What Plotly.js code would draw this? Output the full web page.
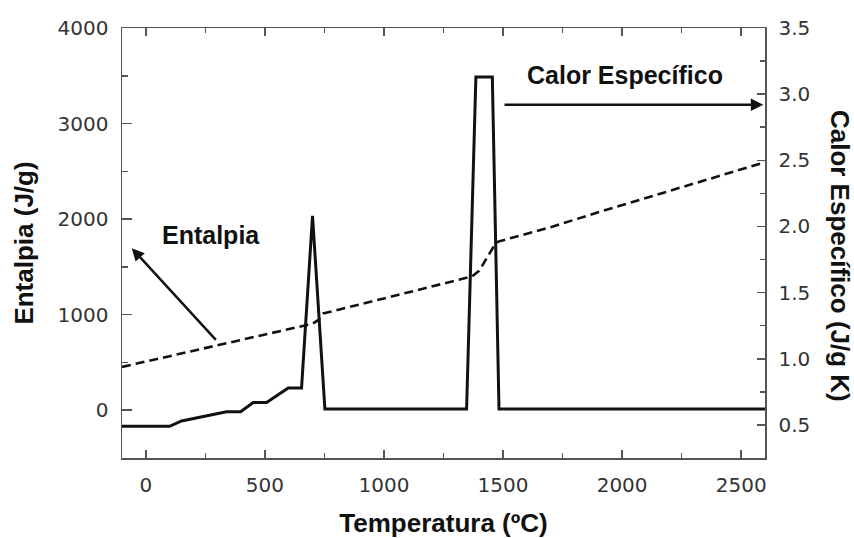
<!DOCTYPE html>
<html>
<head>
<meta charset="utf-8">
<script src="https://cdn.plot.ly/plotly-3.0.1.min.js"></script>
<style>html,body{margin:0;padding:0;background:#fff}#chart{width:854px;height:538px}</style>
</head>
<body>
<div id="chart"></div>
<script>
// Entalpia (left axis, J/g) vs temperature (°C)
const tempEntalpia = [-100, 100, 300, 500, 650, 700, 725, 745, 1000, 1200, 1340, 1370, 1400, 1430, 1460, 1480, 1700, 1900, 2100, 2300, 2600];
const entalpia     = [453, 567, 681, 795, 880, 905, 945, 1012, 1170, 1295, 1380, 1400, 1460, 1590, 1710, 1765, 1915, 2072, 2222, 2372, 2595];

// Calor Específico (right axis, J/g K) vs temperature (°C)
const tempCalor = [-100, 100, 150, 227, 339, 398, 451, 507, 598, 654, 700, 752, 1347, 1386, 1455, 1483, 2600];
const calorEspecifico = [0.49, 0.49, 0.53, 0.56, 0.60, 0.60, 0.67, 0.67, 0.78, 0.78, 2.08, 0.62, 0.62, 3.13, 3.13, 0.62, 0.62];

// Axis ticks
const xTicks = [0, 500, 1000, 1500, 2000, 2500];
const yTicks = [0, 1000, 2000, 3000, 4000];
const y2Ticks = [0.5, 1.0, 1.5, 2.0, 2.5, 3.0, 3.5];
const y2TickText = ['0.5', '1.0', '1.5', '2.0', '2.5', '3.0', '3.5'];

const axisColor = '#555';
const tickFont = {family: 'DejaVu Sans', size: 20, color: '#333'};
const titleFont = {family: 'Liberation Sans', size: 26, color: '#111', weight: 'bold'};
const noteFont = {family: 'Liberation Sans', size: 25, color: '#111', weight: 'bold'};

const traces = [
  {
    x: tempEntalpia, y: entalpia, type: 'scatter', mode: 'lines', yaxis: 'y',
    name: 'Entalpia',
    line: {color: '#111', width: 2.6, dash: '9px,5px'}
  },
  {
    x: tempCalor, y: calorEspecifico, type: 'scatter', mode: 'lines', yaxis: 'y2',
    name: 'Calor Específico',
    line: {color: '#111', width: 3}
  }
];

const layout = {
  width: 854, height: 538,
  margin: {l: 122, r: 89, t: 28, b: 80},
  paper_bgcolor: '#fff', plot_bgcolor: '#fff',
  showlegend: false,
  xaxis: {
    range: [-100, 2600], tickvals: xTicks, ticktext: xTicks.map(String),
    ticks: 'inside', ticklen: 8, tickwidth: 1.5, tickcolor: axisColor,
    minor: {dtick: 250, tick0: 0, ticks: 'inside', ticklen: 5, tickwidth: 1.5, tickcolor: axisColor, showgrid: false},
    showline: true, linecolor: axisColor, linewidth: 1.5, mirror: 'ticks',
    showgrid: false, zeroline: false, tickfont: tickFont, ticklabelstandoff: 8,
    title: {text: 'Temperatura (ºC)', font: titleFont, standoff: 18},
    automargin: false
  },
  yaxis: {
    range: [-500, 4000], tickvals: yTicks, ticktext: yTicks.map(String),
    ticks: 'inside', ticklen: 10, tickwidth: 1.5, tickcolor: axisColor,
    minor: {dtick: 500, tick0: 0, ticks: 'inside', ticklen: 6, tickwidth: 1.5, tickcolor: axisColor, showgrid: false},
    showline: true, linecolor: axisColor, linewidth: 1.5, mirror: false,
    showgrid: false, zeroline: false, tickfont: tickFont, ticklabelstandoff: 8,
    title: {text: 'Entalpia (J/g)', font: titleFont, standoff: 16},
    automargin: false
  },
  yaxis2: {
    overlaying: 'y', side: 'right',
    range: [0.25, 3.5], tickvals: y2Ticks, ticktext: y2TickText,
    ticks: 'inside', ticklen: 8, tickwidth: 1.5, tickcolor: axisColor,
    minor: {dtick: 0.25, tick0: 0, ticks: 'inside', ticklen: 5, tickwidth: 1.5, tickcolor: axisColor, showgrid: false},
    showline: true, linecolor: axisColor, linewidth: 1.5,
    showgrid: false, zeroline: false, tickfont: tickFont, ticklabelstandoff: 8,
    automargin: false
  },
  annotations: [
    // right axis title, reading top-to-bottom as in the reference
    {x: 1.1166, y: 0.47, xref: 'paper', yref: 'paper', xanchor: 'center', yanchor: 'middle',
     text: 'Calor Específico (J/g K)', textangle: 90, showarrow: false, font: titleFont},
    {x: 273, y: 1832, xref: 'x', yref: 'y', text: 'Entalpia', showarrow: false, font: noteFont},
    {x: 2013, y: 3.145, xref: 'x', yref: 'y2', text: 'Calor Específico', showarrow: false, font: noteFont},
    {x: -59, y: 1696, xref: 'x', yref: 'y', ax: 300, ay: 720, axref: 'x', ayref: 'y',
     text: '', showarrow: true, arrowhead: 2, arrowsize: 1, arrowwidth: 2.5, arrowcolor: '#111', standoff: 0},
    {x: 2593, y: 2.92, xref: 'x', yref: 'y2', ax: 1500, ay: 2.92, axref: 'x', ayref: 'y2',
     text: '', showarrow: true, arrowhead: 2, arrowsize: 1, arrowwidth: 2.5, arrowcolor: '#111', standoff: 0}
  ]
};

Plotly.newPlot('chart', traces, layout, {displayModeBar: false, staticPlot: true});
</script>
</body>
</html>
